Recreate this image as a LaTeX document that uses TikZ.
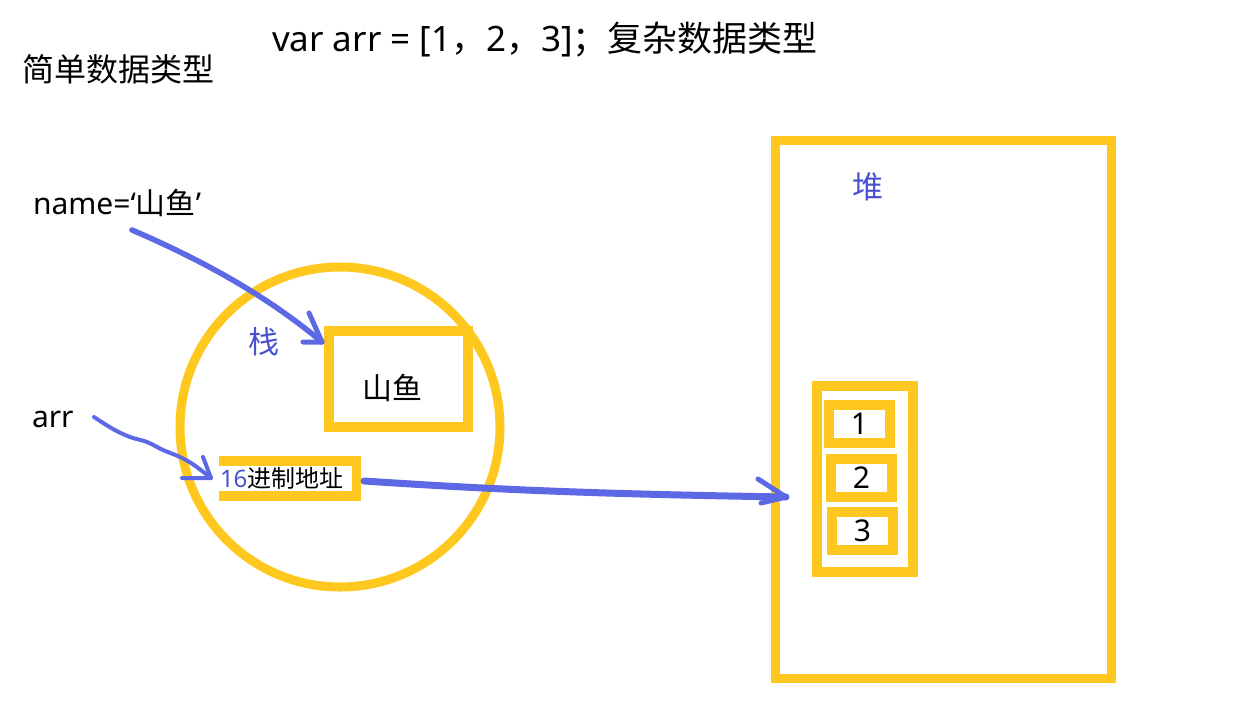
\documentclass[tikz,border=0pt]{standalone}
\usepackage{fontspec}
\setmainfont{Noto Sans}
\newfontfamily\cjk{Noto Sans CJK SC}
\usetikzlibrary{calc}
\definecolor{yel}{RGB}{255,200,30}
\definecolor{bline}{RGB}{92,104,228}
\definecolor{btext}{RGB}{72,82,208}
\tikzset{
  ybox/.style={draw=yel, rectangle, inner sep=0pt, outer sep=0pt, line width=10pt},
  bl/.style={draw=bline, line cap=round, line join=round},
  txt/.style={inner sep=0pt, outer sep=0pt, text=black},
}
\newcommand{\fs}[1]{\fontsize{#1pt}{#1pt}\selectfont}
\begin{document}
\begin{tikzpicture}[x=1pt,y=-1pt]
\fill[white] (0,0) rectangle (1260,721);
\useasboundingbox (0,0) rectangle (1260,721);

% texts
\node[txt, anchor=base west] (top) at (272,51) {\fs{35}var arr = [1{\cjk ，}2{\cjk ，}3]{\cjk ；复杂数据类型}};
\node[txt, anchor=base west] (simple) at (22,81) {\fs{32}\cjk 简单数据类型};
\node[txt, anchor=base west] (name) at (33,214) {\fs{30}name=‘{\cjk 山鱼}’};
\node[txt, anchor=base west] (arr) at (32,427) {\fs{30}arr};

% stack
\node[circle, draw=yel, line width=9pt, minimum size=320pt, inner sep=0pt, outer sep=0pt] (stack) at (340,427) {};
\node[txt, text=btext] (zhan) at (264,342) {\fs{31}\cjk 栈};
\node[ybox, minimum width=139pt, minimum height=96pt] (sy) at (398.5,379) {};
\node[txt] (sytext) at (392,388) {\fs{30}\cjk 山鱼};
\node[ybox, minimum width=132pt, minimum height=35pt] (addr) at (290,478.5) {};
\node[txt, fill=white, anchor=west, minimum height=25pt, text width=131pt, inner xsep=1pt, align=left] (addrtext) at (219,478.5) {\fs{24}{\color{btext}16}{\cjk 进制地址}};

% heap
\node[draw=yel, rectangle, line width=9pt, minimum width=336pt, minimum height=538pt, inner sep=0pt, outer sep=0pt] (heap) at (943.5,409.5) {};
\node[txt, text=btext] (dui) at (868,187) {\fs{31}\cjk 堆};
\node[ybox, minimum width=96pt, minimum height=186pt] (arrbox) at (865,479) {};
\node[ybox, minimum width=61pt, minimum height=38pt] (e1) at (859.5,424) {\fs{30}1\hspace{3pt}};
\node[ybox, minimum width=61pt, minimum height=38pt] (e2) at (861.5,478) {\fs{30}2\hspace{8pt}};
\node[ybox, minimum width=61pt, minimum height=38pt] (e3) at (862.5,531) {\fs{30}\raisebox{-2pt}{3}\hspace{10pt}};

% connectors
\coordinate (s1) at (132,230);
\coordinate (t1) at ($(sy.north west)+(-7,11)$);
\draw[bl, line width=5.5pt] (s1) .. controls (190,255) and (260,290) .. (t1);
\draw[bl, line width=5pt] ($(t1)+(-13,-29)$) -- (t1) -- ++(-19,0);

\coordinate (s2) at (94,417);
\coordinate (t2) at ($(addr.west)+(-13,-0.5)$);
\draw[bl, line width=4pt] plot[smooth, tension=0.6] coordinates {(s2) (113,429) (130,437) (147,442) (163,450) (180,457) (194,465) (t2)};
\draw[bl, line width=4pt] ($(t2)+(-8,-21)$) -- (t2) -- ++(-29,0);

\coordinate (s3) at ($(addr.east)+(8,2.5)$);
\coordinate (t3) at ($(heap.west)+(10.5,87.5)$);
\draw[bl, line width=7pt] (s3) .. controls (500,490) and (600,494) .. (t3);
\draw[bl, line width=5pt] ($(t3)+(-28,-18)$) -- (t3) -- ++(-25,6);
\end{tikzpicture}
\end{document}
